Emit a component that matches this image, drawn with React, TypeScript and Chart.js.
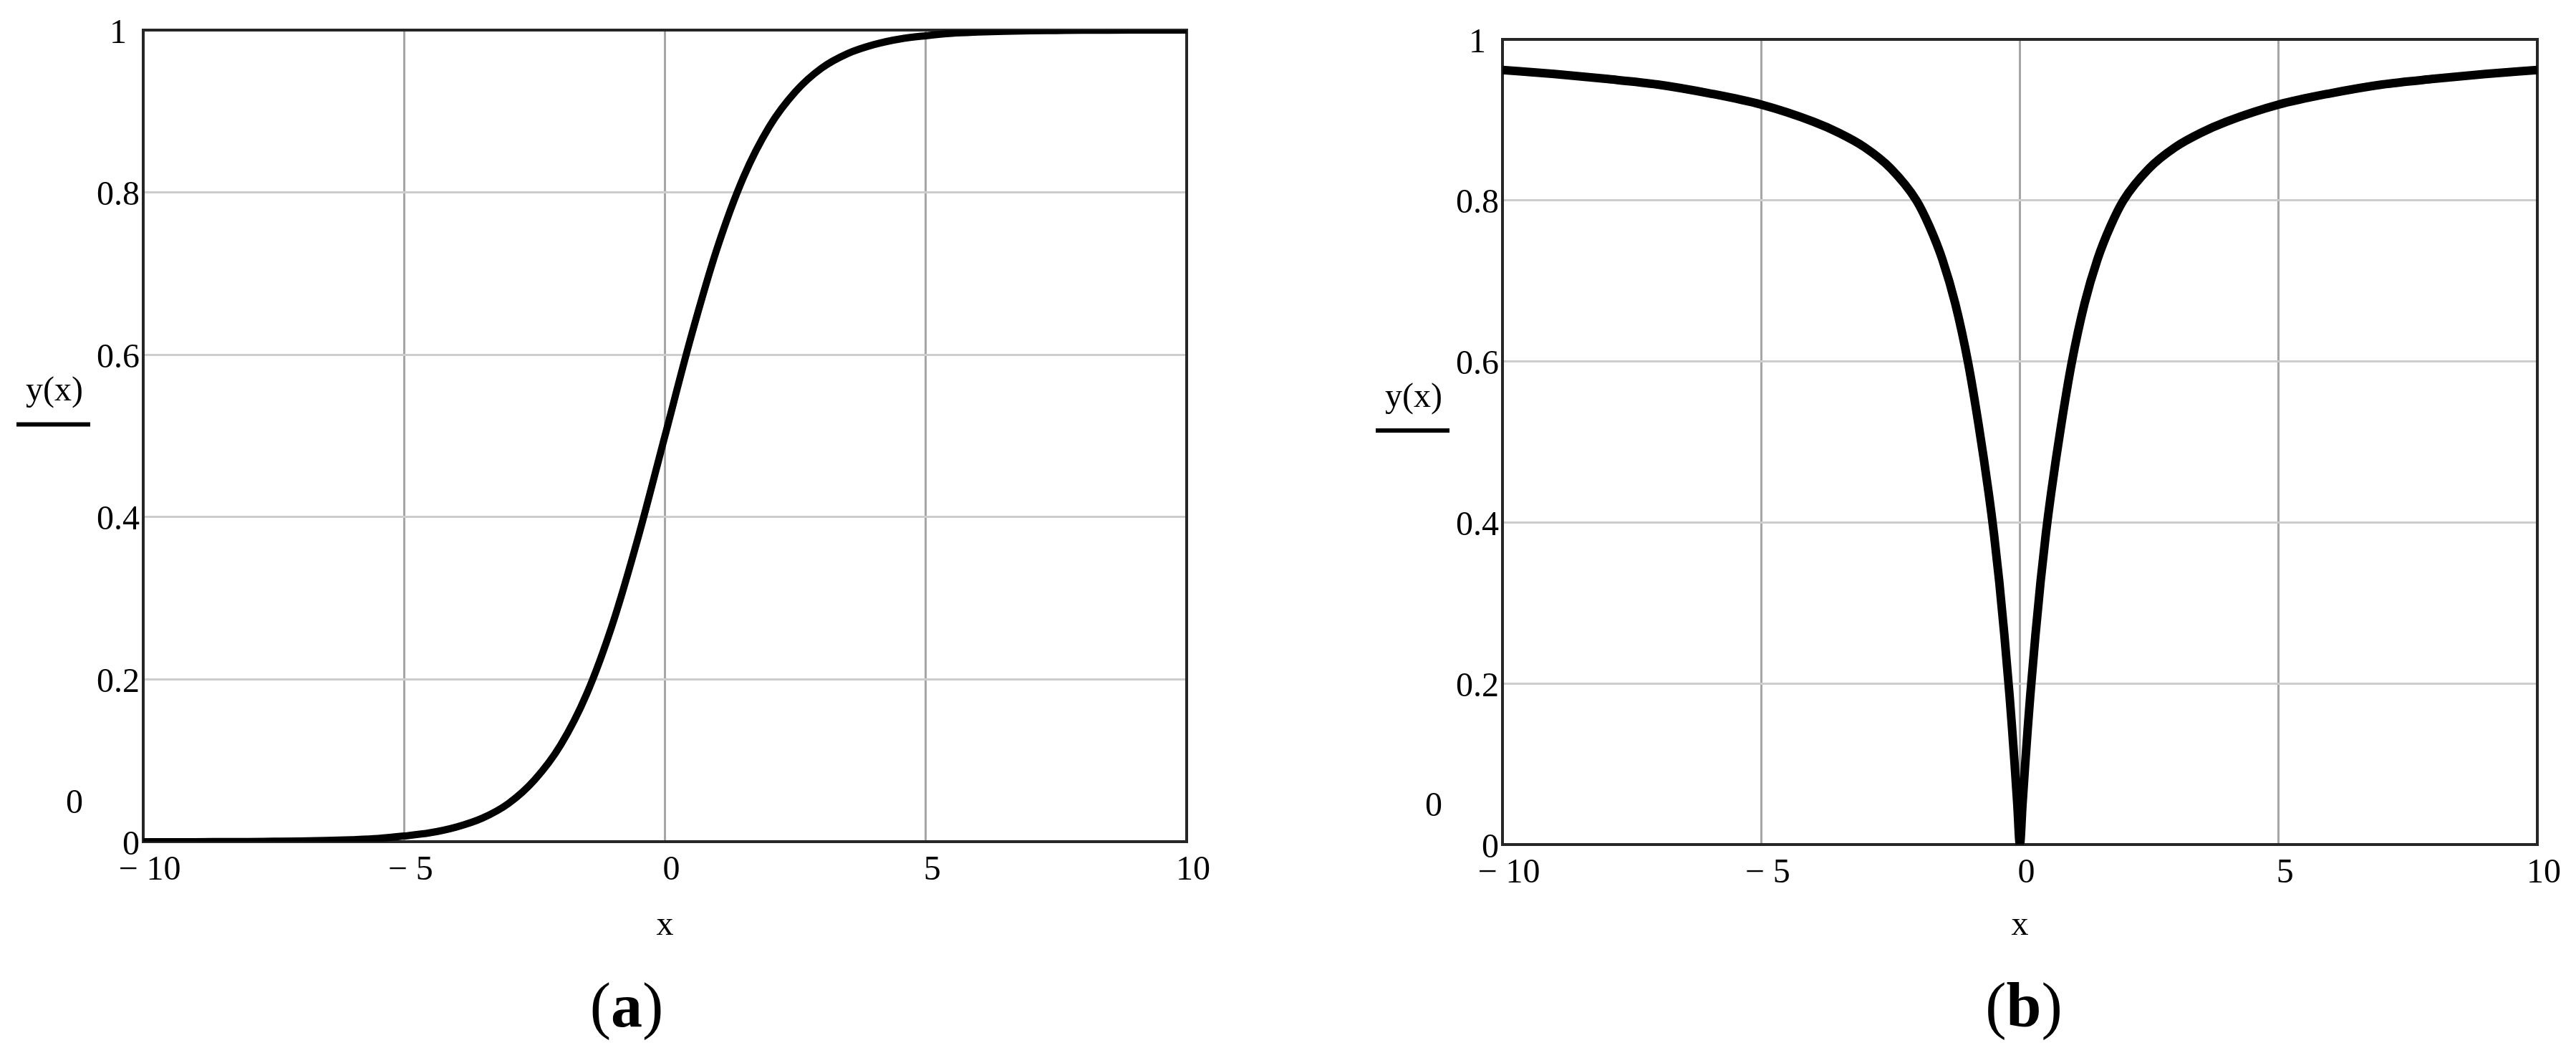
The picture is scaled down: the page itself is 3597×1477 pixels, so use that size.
import React, { useEffect, useRef } from "react";
import { Chart, registerables } from "chart.js";

Chart.register(...registerables);

// ---------- data ----------
const xTickValues = [-10, -5, 0, 5, 10];
const xTickLabels = ["\u2212 10", "\u2212 5", "0", "5", "10"];
const yTickValues = [0, 0.2, 0.4, 0.6, 0.8, 1];
const yTickLabels = ["0", "0.2", "0.4", "0.6", "0.8", "1"];
const axisTitle = "x";
const seriesLabel = "y(x)";
const markerLabel = "0";
const captionLetters = ["a", "b"];

// panel (a): S-shaped curve
const sigX = [-10, -9.5, -9, -8.5, -8, -7.5, -7, -6.5, -6, -5.5, -5, -4.5, -4, -3.5, -3, -2.5, -2, -1.5, -1, -0.5, 0,
  0.5, 1, 1.5, 2, 2.5, 3, 3.5, 4, 4.5, 5, 5.5, 6, 6.5, 7, 7.5, 8, 8.5, 9, 9.5, 10];
const sigY = [0.0, 0.0001, 0.0001, 0.0002, 0.0003, 0.0006, 0.0009, 0.0015, 0.0025, 0.004, 0.007, 0.011, 0.018, 0.029, 0.047, 0.076, 0.119, 0.182, 0.269, 0.378, 0.5,
  0.622, 0.731, 0.818, 0.881, 0.924, 0.953, 0.971, 0.982, 0.989, 0.993, 0.996, 0.9975, 0.9985, 0.9991, 0.9994, 0.9997, 0.9998, 0.9999, 0.9999, 1.0];

// panel (b): V-shaped dip
const dipX = [-10, -9, -8, -7, -6, -5, -4, -3.5, -3, -2.5, -2, -1.75, -1.5, -1.25, -1, -0.8, -0.6, -0.5, -0.4, -0.3, -0.2, -0.15, -0.1, -0.05, 0,
  0.05, 0.1, 0.15, 0.2, 0.3, 0.4, 0.5, 0.6, 0.8, 1, 1.25, 1.5, 1.75, 2, 2.5, 3, 3.5, 4, 5, 6, 7, 8, 9, 10];
const dipY = [0.962, 0.957, 0.951, 0.944, 0.933, 0.919, 0.898, 0.884, 0.866, 0.84, 0.8, 0.768, 0.727, 0.672, 0.598, 0.522, 0.435, 0.385, 0.327, 0.26, 0.185, 0.143, 0.098, 0.05, 0,
  0.05, 0.098, 0.143, 0.185, 0.26, 0.327, 0.385, 0.435, 0.522, 0.598, 0.672, 0.727, 0.768, 0.8, 0.84, 0.866, 0.884, 0.898, 0.919, 0.933, 0.944, 0.951, 0.957, 0.962];

// ---------- layout ----------
const FONT = "'Liberation Serif', 'Times New Roman', serif";
const PAGE_W = 3597;
const PAGE_H = 1477;

type Panel = {
  xs: number[];
  ys: number[];
  letter: string;
  left: number;
  width: number;
  padTop: number;
  padRight: number;
  yAxisWidth: number;
  xAxisHeight: number;
  lineWidth: number;
  captionX: number;
};

const panels: Panel[] = [
  { xs: sigX, ys: sigY, letter: captionLetters[0], left: 0, width: 1798, padTop: 42, padRight: 141, yAxisWidth: 200, xAxisHeight: 302, lineWidth: 10, captionX: 875 },
  { xs: dipX, ys: dipY, letter: captionLetters[1], left: 1798, width: 1799, padTop: 55, padRight: 54, yAxisWidth: 300, xAxisHeight: 298, lineWidth: 12, captionX: 2826 - 1798 },
];

const extrasPlugin = {
  id: "mathcadExtras",
  beforeDatasetsDraw(chart: any) {
    const { ctx, chartArea: ca } = chart;
    ctx.save();
    ctx.strokeStyle = "#262626";
    ctx.lineWidth = 4;
    ctx.strokeRect(ca.left, ca.top, ca.right - ca.left, ca.bottom - ca.top);
    ctx.restore();
  },
  afterDraw(chart: any, _args: any, opts: any) {
    const { ctx, chartArea: ca } = chart;
    const yScale = chart.scales.y;
    const midY = (ca.top + ca.bottom) / 2;
    ctx.save();
    ctx.fillStyle = "#000";
    ctx.textBaseline = "middle";
    // bottom y tick label "0"
    ctx.font = `48px ${FONT}`;
    ctx.textAlign = "center";
    ctx.fillText(yTickLabels[0], ca.left - 17, yScale.getPixelForValue(yTickValues[0]) + 5);
    // marker "0" at the left
    ctx.fillText(markerLabel, ca.left - 96, ca.bottom - 53);
    // trace label y(x)
    ctx.fillText(seriesLabel, ca.left - 124, midY - 62);
    // trace sample line
    ctx.strokeStyle = "#000";
    ctx.lineWidth = 6;
    ctx.beginPath();
    ctx.moveTo(ca.left - 177, midY - 16);
    ctx.lineTo(ca.left - 74, midY - 16);
    ctx.stroke();
    // caption "(a)" / "(b)" with bold letter
    const size = 88;
    const baseY = 1433;
    ctx.textBaseline = "alphabetic";
    ctx.textAlign = "left";
    ctx.font = `${size}px ${FONT}`;
    const wL = ctx.measureText("(").width;
    const wR = ctx.measureText(")").width;
    ctx.font = `bold ${size}px ${FONT}`;
    const wM = ctx.measureText(opts.letter).width;
    let x = opts.captionX - (wL + wM + wR) / 2;
    ctx.font = `${size}px ${FONT}`;
    ctx.fillText("(", x, baseY);
    x += wL;
    ctx.font = `bold ${size}px ${FONT}`;
    ctx.fillText(opts.letter, x, baseY);
    x += wM;
    ctx.font = `${size}px ${FONT}`;
    ctx.fillText(")", x, baseY);
    ctx.restore();
  },
};

function PanelChart({ p }: { p: Panel }) {
  const ref = useRef<HTMLCanvasElement | null>(null);
  useEffect(() => {
    if (!ref.current) return;
    const chart = new Chart(ref.current, {
      type: "line",
      data: {
        datasets: [
          {
            label: seriesLabel,
            data: p.xs.map((x, i) => ({ x, y: p.ys[i] })),
            borderColor: "#000",
            borderWidth: p.lineWidth,
            pointRadius: 0,
            fill: false,
            cubicInterpolationMode: "monotone",
            borderCapStyle: "butt",
          },
        ],
      },
      options: {
        animation: false,
        responsive: false,
        maintainAspectRatio: false,
        events: [],
        layout: { padding: { top: p.padTop, right: p.padRight, left: 0, bottom: 0 } },
        plugins: {
          legend: { display: false },
          tooltip: { enabled: false },
          mathcadExtras: { letter: p.letter, captionX: p.captionX },
        } as any,
        scales: {
          x: {
            type: "linear",
            min: -10,
            max: 10,
            afterBuildTicks: (s: any) => {
              s.ticks = xTickValues.map((v) => ({ value: v }));
            },
            afterFit: (s: any) => {
              s.height = p.xAxisHeight;
            },
            ticks: {
              autoSkip: false,
              maxRotation: 0,
              padding: 12,
              labelOffset: 9,
              color: "#000",
              font: { family: FONT, size: 48 },
              callback: (v: any) => {
                const i = xTickValues.indexOf(Number(v));
                return i >= 0 ? xTickLabels[i] : "";
              },
            },
            grid: { color: "#a6a6a6", lineWidth: 3, drawTicks: false },
            border: { display: false },
            title: {
              display: true,
              text: axisTitle,
              color: "#000",
              font: { family: FONT, size: 48 },
              padding: { top: 0, bottom: 156 },
            },
          },
          y: {
            type: "linear",
            min: 0,
            max: 1,
            afterBuildTicks: (s: any) => {
              s.ticks = yTickValues.map((v) => ({ value: v }));
            },
            afterFit: (s: any) => {
              s.width = p.yAxisWidth;
            },
            ticks: {
              autoSkip: false,
              padding: 5,
              labelOffset: 5,
              crossAlign: "center",
              color: "#000",
              font: { family: FONT, size: 48 },
              callback: (v: any) => {
                const i = yTickValues.indexOf(Number(v));
                if (i <= 0) return "";
                return yTickLabels[i];
              },
            },
            grid: { color: "#cdcdcd", lineWidth: 3, drawTicks: false },
            border: { display: false },
          },
        },
      },
      plugins: [extrasPlugin],
    });
    return () => chart.destroy();
  }, [p]);
  return (
    <canvas
      ref={ref}
      width={p.width}
      height={PAGE_H}
      style={{ position: "absolute", left: p.left, top: 0, width: p.width, height: PAGE_H }}
    />
  );
}

export default function App() {
  useEffect(() => {
    document.body.style.margin = "0";
    document.body.style.background = "#fff";
  }, []);
  return (
    <div style={{ position: "relative", width: PAGE_W, height: PAGE_H, background: "#fff", overflow: "hidden" }}>
      {panels.map((p) => (
        <PanelChart key={p.letter} p={p} />
      ))}
    </div>
  );
}
